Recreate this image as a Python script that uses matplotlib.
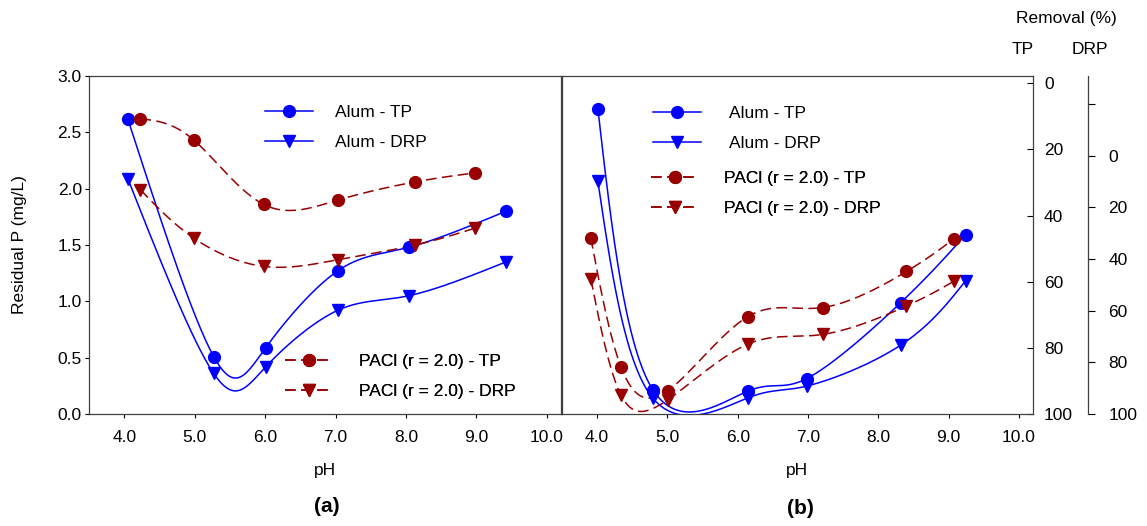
import numpy as np
import matplotlib
matplotlib.use("Agg")
import matplotlib.pyplot as plt
from matplotlib.lines import Line2D

plt.rcParams['font.family'] = ['Liberation Sans', 'DejaVu Sans']

#===Data: panel (a), residual P (mg/L)===#
ph_alum_a = [4.05, 5.27, 6.01, 7.03, 8.04, 9.42]
alum_tp_a = [2.62, 0.51, 0.59, 1.27, 1.48, 1.80]
alum_drp_a = [2.09, 0.36, 0.42, 0.92, 1.05, 1.35]
ph_pacl_a = [4.23, 4.99, 5.98, 7.04, 8.13, 8.98]
pacl_tp_a = [2.62, 2.43, 1.86, 1.90, 2.06, 2.14]
pacl_drp_a = [1.99, 1.56, 1.31, 1.37, 1.50, 1.65]

#===Data: panel (b), removal (%)===#
ph_alum_b = [4.01, 4.79, 6.14, 6.98, 8.32, 9.24]
alum_tp_b = [7.7, 92.6, 93.1, 89.3, 66.3, 45.8]
alum_drp_b = [9.9, 93.8, 93.8, 89.2, 73.3, 48.5]
ph_pacl_b = [3.91, 4.34, 5.01, 6.14, 7.21, 8.40, 9.07]
pacl_tp_b = [46.8, 85.8, 92.9, 70.6, 67.8, 56.9, 47.1]
pacl_drp_b = [47.8, 92.7, 94.4, 73.0, 69.2, 58.2, 48.7]

x_ticks = [4, 5, 6, 7, 8, 9, 10]
x_labels = ['4.0', '5.0', '6.0', '7.0', '8.0', '9.0', '10.0']

BLUE = '#0000ff'
RED = '#990000'
FS = 12.5
W, H = 1147.0, 526.0


def natural(t, v, ts):
	# natural cubic spline of v(t), evaluated at ts
	m = len(t)
	h = np.diff(t)
	A = np.zeros((m, m)); r = np.zeros(m)
	A[0, 0] = A[-1, -1] = 1
	for i in range(1, m - 1):
		A[i, i - 1] = h[i - 1]; A[i, i] = 2 * (h[i - 1] + h[i]); A[i, i + 1] = h[i]
		r[i] = 6 * ((v[i + 1] - v[i]) / h[i] - (v[i] - v[i - 1]) / h[i - 1])
	M = np.linalg.solve(A, r)
	k = np.clip(np.searchsorted(t, ts) - 1, 0, m - 2)
	hh = t[k + 1] - t[k]
	t0 = t[k + 1] - ts; t1 = ts - t[k]
	return (M[k] * t0 ** 3 + M[k + 1] * t1 ** 3) / (6 * hh) \
		+ (v[k] / hh - M[k] * hh / 6) * t0 + (v[k + 1] / hh - M[k + 1] * hh / 6) * t1


def smooth(x, y):
	# parametric spline: x and y each follow the point index
	x = np.asarray(x, float); y = np.asarray(y, float)
	t = np.arange(len(x), dtype=float)
	ts = np.linspace(0, t[-1], 500)
	return natural(t, x, ts), natural(t, y, ts)


def series(ax, x, y, color, marker, dashed, label):
	xs, ys = smooth(x, y)
	ls = (0, (7, 3.5)) if dashed else '-'
	ax.plot(xs, ys, color=color, lw=1.1, ls=ls, zorder=2)
	ax.plot(x, y, ls='none', marker=marker, color=color, ms=8.5, zorder=3)
	return Line2D([], [], color=color, lw=1.1, ls=ls, marker=marker, ms=8.5, label=label)


def fig_box(x0, y0, x1, y1):
	return [x0 / W, 1 - y1 / H, (x1 - x0) / W, (y1 - y0) / H]


def add_legend(ax, handles, x, y, pad):
	leg = ax.legend(handles=handles, loc='upper left', bbox_to_anchor=(x / W, 1 - y / H),
					bbox_transform=fig.transFigure, frameon=False, fontsize=FS,
					borderpad=0, borderaxespad=0, handlelength=2.75, handletextpad=pad,
					labelspacing=0.86)
	ax.add_artist(leg)


def style_x(ax):
	ax.set_xlim(3.5, 10.2)
	ax.set_xticks(x_ticks)
	ax.set_xticklabels(x_labels)
	ax.tick_params(axis='x', direction='out', length=3.2, width=0.8, labelsize=FS, pad=8)
	for s in ax.spines.values():
		s.set_color('#404040'); s.set_linewidth(0.9)


#===Create Figure===#
fig = plt.figure(figsize=(W / 100, H / 100), dpi=100)
ax_a = fig.add_axes(fig_box(89, 76, 561, 414))
ax_b = fig.add_axes(fig_box(562, 76, 1033, 414))
ax_d = ax_b.twinx()

#===Set Axes===#
style_x(ax_a)
ax_a.set_ylim(0, 3.0)
ax_a.set_yticks(np.arange(0, 3.01, 0.5))
ax_a.set_yticklabels(['%.1f' % v for v in np.arange(0, 3.01, 0.5)])
ax_a.tick_params(axis='y', direction='out', length=3.2, width=0.8, labelsize=FS, pad=2)

style_x(ax_b)
ax_b.set_ylim(100, -2.2)
ax_b.yaxis.tick_right()
ax_b.set_yticks([0, 20, 40, 60, 80, 100])
ax_b.tick_params(axis='y', direction='in', length=4.5, width=0.8, labelsize=FS, pad=8)
for lab in ax_b.get_yticklabels():
	lab.set_horizontalalignment('left')

ax_d.set_xlim(3.5, 10.2)
ax_d.set_ylim(100, -30.8)
ax_d.set_yticks([-20, 0, 20, 40, 60, 80, 100])
ax_d.set_yticklabels(['', '0', '20', '40', '60', '80', '100'])
ax_d.spines['right'].set_position(('axes', 526.0 / 471.0))
for s in ['top', 'left', 'bottom']:
	ax_d.spines[s].set_visible(False)
ax_d.spines['right'].set_color('#404040'); ax_d.spines['right'].set_linewidth(0.9)
ax_d.tick_params(axis='y', direction='out', length=4.8, width=0.8, labelsize=FS, pad=10)

#===Panel (a)===#
h1 = series(ax_a, ph_alum_a, alum_tp_a, BLUE, 'o', False, 'Alum - TP')
h2 = series(ax_a, ph_alum_a, alum_drp_a, BLUE, 'v', False, 'Alum - DRP')
h3 = series(ax_a, ph_pacl_a, pacl_tp_a, RED, 'o', True, 'PACl (r = 2.0) - TP')
h4 = series(ax_a, ph_pacl_a, pacl_drp_a, RED, 'v', True, 'PACl (r = 2.0) - DRP')
add_legend(ax_a, [h1, h2], 265, 104.5, 1.3)
add_legend(ax_a, [h3, h4], 285, 354, 1.5)

#===Panel (b): TP removal axis + offset DRP removal axis===#
g1 = series(ax_b, ph_alum_b, alum_tp_b, BLUE, 'o', False, 'Alum - TP')
g2 = series(ax_d, ph_alum_b, alum_drp_b, BLUE, 'v', False, 'Alum - DRP')
g3 = series(ax_b, ph_pacl_b, pacl_tp_b, RED, 'o', True, 'PACl (r = 2.0) - TP')
g4 = series(ax_d, ph_pacl_b, pacl_drp_b, RED, 'v', True, 'PACl (r = 2.0) - DRP')
add_legend(ax_d, [g1, g2], 653, 105.5, 1.6)
add_legend(ax_d, [g3, g4], 651, 170.5, 1.45)

#===Labels===#
fig.text(20 / W, 1 - 245 / H, 'Residual P (mg/L)', rotation=90, ha='center', va='center', fontsize=FS)
fig.text(325 / W, 1 - 471 / H, 'pH', ha='center', va='center', fontsize=FS)
fig.text(797 / W, 1 - 471 / H, 'pH', ha='center', va='center', fontsize=FS)
fig.text(327 / W, 1 - 506 / H, '(a)', ha='center', va='center', fontsize=15, fontweight='bold')
fig.text(800 / W, 1 - 509 / H, '(b)', ha='center', va='center', fontsize=15, fontweight='bold')
fig.text(1066 / W, 1 - 19 / H, 'Removal (%)', ha='center', va='center', fontsize=FS)
fig.text(1023 / W, 1 - 50 / H, 'TP', ha='center', va='center', fontsize=FS)
fig.text(1090 / W, 1 - 50 / H, 'DRP', ha='center', va='center', fontsize=FS)

#===Save Figure===#
fig.savefig('out.png', dpi=100)
